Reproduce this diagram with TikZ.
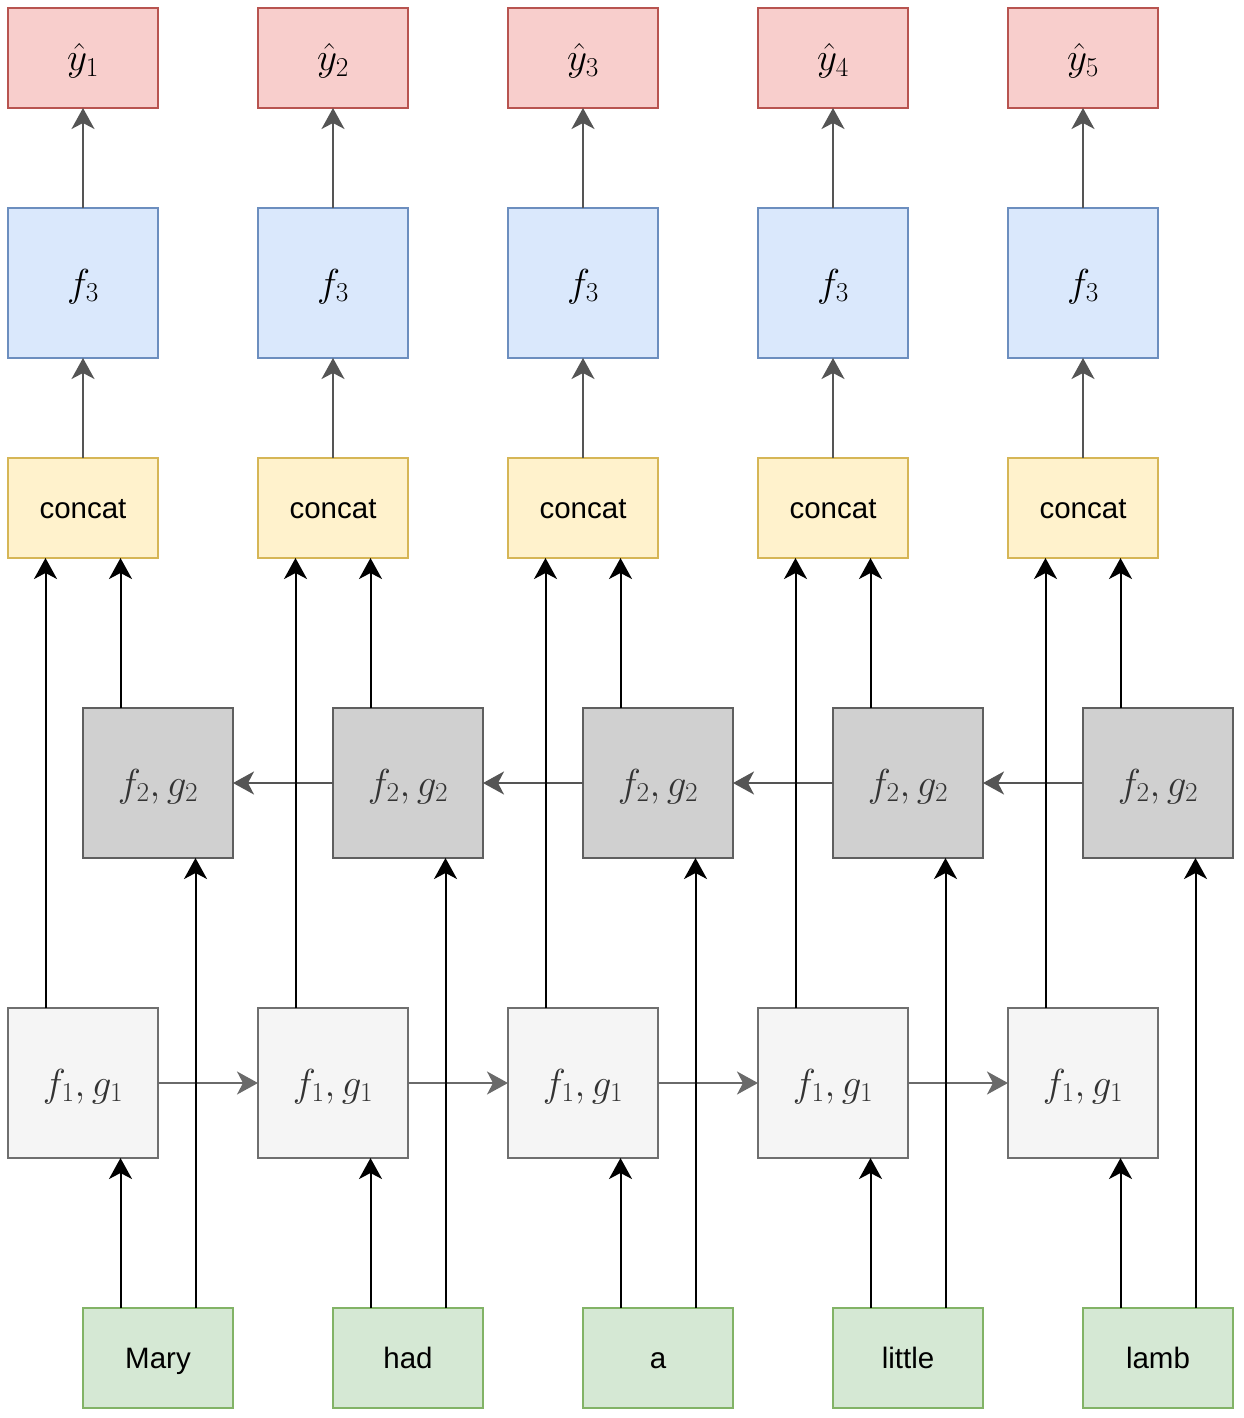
\RequirePackage{fix-cm}
\documentclass[tikz,border=0pt]{standalone}
\usepackage[no-math]{fontspec}
\setmainfont{Liberation Sans}
\usetikzlibrary{arrows.meta}
\definecolor{redF}{HTML}{F8CECC}\definecolor{redS}{HTML}{B85450}
\definecolor{bluF}{HTML}{DAE8FC}\definecolor{bluS}{HTML}{6C8EBF}
\definecolor{yelF}{HTML}{FFF2CC}\definecolor{yelS}{HTML}{D6B656}
\definecolor{dgF}{HTML}{D0D0D0}\definecolor{dgS}{HTML}{5F5F5F}
\definecolor{lgF}{HTML}{F5F5F5}\definecolor{lgS}{HTML}{6F6F6F}
\definecolor{grnF}{HTML}{D5E8D4}\definecolor{grnS}{HTML}{82B366}
\definecolor{txtG}{HTML}{333333}
\definecolor{arrD}{HTML}{555555}\definecolor{arrL}{HTML}{6A6A6A}
\tikzset{
  box/.style={draw, line width=2pt, inner sep=0pt, outer sep=0pt, minimum width=150pt},
  shortbox/.style={box, minimum height=100pt},
  sqbox/.style={box, minimum height=150pt},
  mathtext/.style={font=\fontsize{39}{44}\selectfont, text height=26pt, text depth=0pt},
  plaintext/.style={font=\fontsize{29.5}{34}\selectfont, text height=21pt, text depth=0pt},
  yhatbox/.style={shortbox, fill=redF, draw=redS, mathtext},
  fthree/.style={sqbox, fill=bluF, draw=bluS, mathtext},
  concatbox/.style={shortbox, fill=yelF, draw=yelS, plaintext},
  ftwo/.style={sqbox, fill=dgF, draw=dgS, text=txtG, mathtext},
  fone/.style={sqbox, fill=lgF, draw=lgS, text=txtG, mathtext},
  wordbox/.style={shortbox, fill=grnF, draw=grnS, plaintext},
  tip/.style={-{Stealth[length=21pt,width=23pt,inset=6pt]}},
  darrow/.style={tip, line width=2pt, draw=arrD, fill=arrD},
  larrow/.style={tip, line width=2pt, draw=arrL, fill=arrL},
  barrow/.style={tip, line width=2pt, draw=black, fill=black},
}
\begin{document}
\begin{tikzpicture}[x=1pt,y=-1pt]
\useasboundingbox (0,0) rectangle (1243,1418);
\foreach \i/\w in {1/Mary,2/had,3/a,4/little,5/lamb}{
  \pgfmathsetmacro{\X}{250*(\i-1)}
  \node[yhatbox]   (y\i) at (83+\X,58)   {$\hat{y}_{\i}$};
  \node[fthree]    (t\i) at (83+\X,283)  {$f_3$};
  \node[concatbox] (c\i) at (83+\X,508)  {concat};
  \node[ftwo]      (b\i) at (158+\X,783) {$f_2, g_2$};
  \node[fone]      (a\i) at (83+\X,1083) {$f_1, g_1$};
  \node[wordbox]   (w\i) at (158+\X,1358) {\w};
}
\foreach \i in {1,...,5}{
  \draw[darrow] (t\i.north) -- (y\i.south);
  \draw[darrow] (c\i.north) -- (t\i.south);
}
\foreach \i [evaluate=\i as \j using int(\i+1)] in {1,...,4}{
  \draw[larrow] (a\i.east) -- (a\j.west);
  \draw[darrow] (b\j.west) -- (b\i.east);
}
\foreach \i in {1,...,5}{
  \draw[barrow] ([xshift=-37.5pt]a\i.north) -- ([xshift=-37.5pt]c\i.south);
  \draw[barrow] ([xshift=-37.5pt]b\i.north) -- ([xshift=37.5pt]c\i.south);
  \draw[barrow] ([xshift=-37.5pt]w\i.north) -- ([xshift=37.5pt]a\i.south);
  \draw[barrow] ([xshift=37.5pt]w\i.north) -- ([xshift=37.5pt]b\i.south);
}
\end{tikzpicture}
\end{document}
